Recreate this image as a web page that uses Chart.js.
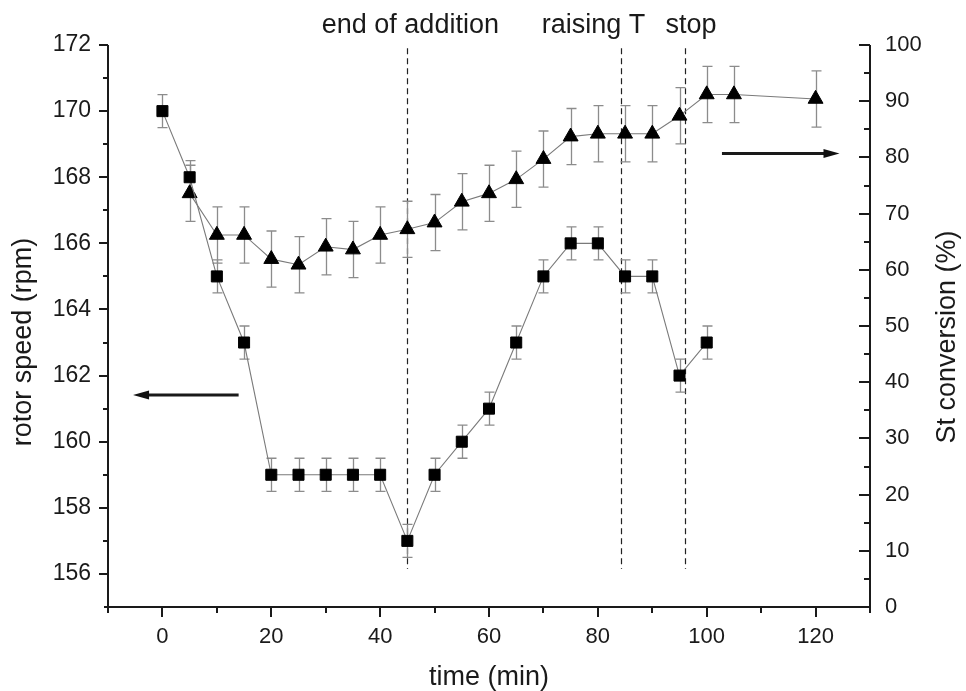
<!DOCTYPE html>
<html><head><meta charset="utf-8">
<script src="https://cdn.jsdelivr.net/npm/chart.js@4/dist/chart.umd.min.js"></script>
<style>html,body{margin:0;padding:0;background:#fff;overflow:hidden}#wrap{width:966px;height:691px}</style>
</head><body><div id="wrap"><canvas id="c" width="966" height="691"></canvas></div>
<script>
// ---- data ----
const speedTimes  = [0,5,10,15,20,25,30,35,40,45,50,55,60,65,70,75,80,85,90,95,100];
const speedValues = [170,168,165,163,159,159,159,159,159,157,159,160,161,163,165,166,166,165,165,162,163];
const speedErrors = [0.5,0.5,0.5,0.5,0.5,0.5,0.5,0.5,0.5,0.5,0.5,0.5,0.5,0.5,0.5,0.5,0.5,0.5,0.5,0.5,0.5];

const convTimes  = [5,10,15,20,25,30,35,40,45,50,55,60,65,70,75,80,85,90,95,100,105,120];
const convValues = [73.6,66.2,66.2,61.9,60.9,64.1,63.6,66.2,67.2,68.4,72.1,73.6,76.1,79.7,83.7,84.2,84.2,84.2,87.4,91.2,91.2,90.4];
const convErrors = [5,5,5,5,5,5,5,5,5,5,5,5,5,5,5,5,5,5,5,5,5,5];

const xTickLabels     = [0,20,40,60,80,100,120];
const leftTickLabels  = [156,158,160,162,164,166,168,170,172];
const rightTickLabels = [0,10,20,30,40,50,60,70,80,90,100];

const eventTimes  = [45, 84.3, 96];
const eventLabels = ['end of addition', 'raising T', 'stop'];

const xTitle = 'time (min)';
const leftTitle = 'rotor speed (rpm)';
const rightTitle = 'St conversion (%)';

const FONT = '"Liberation Sans", Arial, Helvetica, sans-serif';

const decor = {
  id: 'decor',
  beforeDatasetsDraw(chart) {
    const ctx = chart.ctx, xs = chart.scales.x, yl = chart.scales.y, yr = chart.scales.y2;
    ctx.save();
    // dashed event lines
    ctx.strokeStyle = '#222'; ctx.lineWidth = 1.2; ctx.setLineDash([6, 4]);
    eventTimes.forEach(t => {
      const x = Math.round(xs.getPixelForValue(t)) + 0.5;
      ctx.beginPath();
      ctx.moveTo(x, yl.getPixelForValue(171.9));
      ctx.lineTo(x, yl.getPixelForValue(156.15));
      ctx.stroke();
    });
    ctx.setLineDash([]);
    // error bars
    ctx.strokeStyle = '#8c8c8c'; ctx.lineWidth = 1.3;
    const bars = (times, vals, errs, sc) => {
      times.forEach((t, i) => {
        const x = Math.round(xs.getPixelForValue(t)) + 0.5;
        const yt = sc.getPixelForValue(vals[i] + errs[i]);
        const yb = sc.getPixelForValue(vals[i] - errs[i]);
        ctx.beginPath();
        ctx.moveTo(x, yt); ctx.lineTo(x, yb);
        ctx.moveTo(x - 5, yt); ctx.lineTo(x + 5, yt);
        ctx.moveTo(x - 5, yb); ctx.lineTo(x + 5, yb);
        ctx.stroke();
      });
    };
    bars(speedTimes, speedValues, speedErrors, yl);
    bars(convTimes, convValues, convErrors, yr);
    ctx.restore();
  },
  afterDraw(chart) {
    const ctx = chart.ctx, xs = chart.scales.x, yl = chart.scales.y, yr = chart.scales.y2;
    const a = chart.chartArea;
    ctx.save();
    ctx.strokeStyle = '#1a1a1a'; ctx.lineWidth = 2; ctx.lineCap = 'butt';
    // axis lines
    ctx.beginPath();
    ctx.moveTo(a.left, a.top); ctx.lineTo(a.left, a.bottom + 1);
    ctx.moveTo(a.right, a.top); ctx.lineTo(a.right, a.bottom + 1);
    ctx.moveTo(a.left - 4, a.bottom); ctx.lineTo(a.right + 1, a.bottom);
    ctx.stroke();
    // tick marks
    ctx.beginPath();
    yl.ticks.forEach(tk => {
      const y = Math.round(yl.getPixelForValue(tk.value));
      const len = leftTickLabels.includes(tk.value) ? 9 : 5;
      if (tk.value === 155) return;
      ctx.moveTo(a.left - len, y); ctx.lineTo(a.left, y);
    });
    yr.ticks.forEach(tk => {
      const y = Math.round(yr.getPixelForValue(tk.value));
      if (tk.value === 0) return;
      const len = rightTickLabels.includes(tk.value) ? 11 : 6;
      ctx.moveTo(a.right - len, y); ctx.lineTo(a.right, y);
    });
    xs.ticks.forEach(tk => {
      const x = Math.round(xs.getPixelForValue(tk.value));
      const len = xTickLabels.includes(tk.value) ? 10 : 6;
      ctx.moveTo(x, a.bottom); ctx.lineTo(x, a.bottom + len);
    });
    ctx.stroke();
    // arrows
    const arrow = (x1, x2, y) => {
      const dir = Math.sign(x2 - x1);
      ctx.beginPath(); ctx.lineWidth = 3;
      ctx.moveTo(x1, y); ctx.lineTo(x2 - dir * 12, y); ctx.stroke();
      ctx.beginPath();
      ctx.moveTo(x2, y); ctx.lineTo(x2 - dir * 16, y - 4.5); ctx.lineTo(x2 - dir * 16, y + 4.5);
      ctx.closePath(); ctx.fillStyle = '#111'; ctx.fill();
    };
    arrow(xs.getPixelForValue(14), xs.getPixelForValue(-5.4), yl.getPixelForValue(161.41));
    arrow(xs.getPixelForValue(102.8), xs.getPixelForValue(124.4), yr.getPixelForValue(80.7));
    // annotation labels
    ctx.fillStyle = '#1a1a1a';
    ctx.font = '27px ' + FONT;
    ctx.textBaseline = 'alphabetic';
    const ex = eventTimes.map(t => xs.getPixelForValue(t));
    ctx.textAlign = 'center'; ctx.fillText(eventLabels[0], ex[0] + 3, 33);
    ctx.textAlign = 'right';  ctx.fillText(eventLabels[1], ex[1] + 24, 33);
    ctx.textAlign = 'center'; ctx.fillText(eventLabels[2], ex[2] + 6, 33);
    // axis titles
    ctx.font = '27px ' + FONT;
    ctx.textAlign = 'center'; ctx.textBaseline = 'alphabetic';
    ctx.fillText(xTitle, (a.left + a.right) / 2, 685);
    ctx.textBaseline = 'middle';
    ctx.save(); ctx.translate(24, 342); ctx.rotate(-Math.PI / 2); ctx.fillText(leftTitle, 0, 0); ctx.restore();
    ctx.save(); ctx.translate(948, 337); ctx.rotate(-Math.PI / 2); ctx.fillText(rightTitle, 0, 0); ctx.restore();
    ctx.restore();
  }
};

new Chart(document.getElementById('c'), {
  type: 'line',
  data: {
    datasets: [
      {
        label: 'rotor speed',
        data: speedTimes.map((t, i) => ({x: t, y: speedValues[i]})),
        yAxisID: 'y',
        borderColor: '#7a7a7a', borderWidth: 1.1,
        pointStyle: 'rect', pointRadius: 7.8, pointHoverRadius: 7.8,
        pointBackgroundColor: '#000', pointBorderColor: '#000', pointBorderWidth: 1,
        fill: false, tension: 0
      },
      {
        label: 'St conversion',
        data: convTimes.map((t, i) => ({x: t, y: convValues[i]})),
        yAxisID: 'y2',
        borderColor: '#7a7a7a', borderWidth: 1.1,
        pointStyle: 'triangle', pointRadius: 8.6, pointHoverRadius: 8.6,
        pointBackgroundColor: '#000', pointBorderColor: '#000', pointBorderWidth: 1,
        fill: false, tension: 0
      }
    ]
  },
  options: {
    responsive: false, animation: false, devicePixelRatio: 1,
    layout: {padding: {top: 45, left: 0, right: 0, bottom: 0}},
    plugins: {legend: {display: false}, tooltip: {enabled: false}},
    scales: {
      x: {
        type: 'linear', position: 'bottom', min: -10, max: 130,
        grid: {display: false, drawTicks: false}, border: {display: false},
        ticks: {stepSize: 10, autoSkip: false, maxRotation: 0, padding: 17,
          color: '#1a1a1a', font: {family: FONT, size: 22},
          callback: v => xTickLabels.includes(v) ? String(v) : ''},
        afterFit: s => { s.height = 84; }
      },
      y: {
        type: 'linear', position: 'left', min: 155, max: 172,
        grid: {display: false, drawTicks: false}, border: {display: false},
        ticks: {stepSize: 1, autoSkip: false, padding: 17,
          color: '#1a1a1a', font: {family: FONT, size: 23},
          callback: v => leftTickLabels.includes(v) ? String(v) : ''},
        afterFit: s => { s.width = 108; }
      },
      y2: {
        type: 'linear', position: 'right', min: 0, max: 100,
        grid: {display: false, drawTicks: false}, border: {display: false},
        ticks: {stepSize: 5, autoSkip: false, padding: 15,
          color: '#1a1a1a', font: {family: FONT, size: 22},
          callback: v => rightTickLabels.includes(v) ? String(v) : ''},
        afterFit: s => { s.width = 96; }
      }
    }
  },
  plugins: [decor]
});
</script></body></html>
